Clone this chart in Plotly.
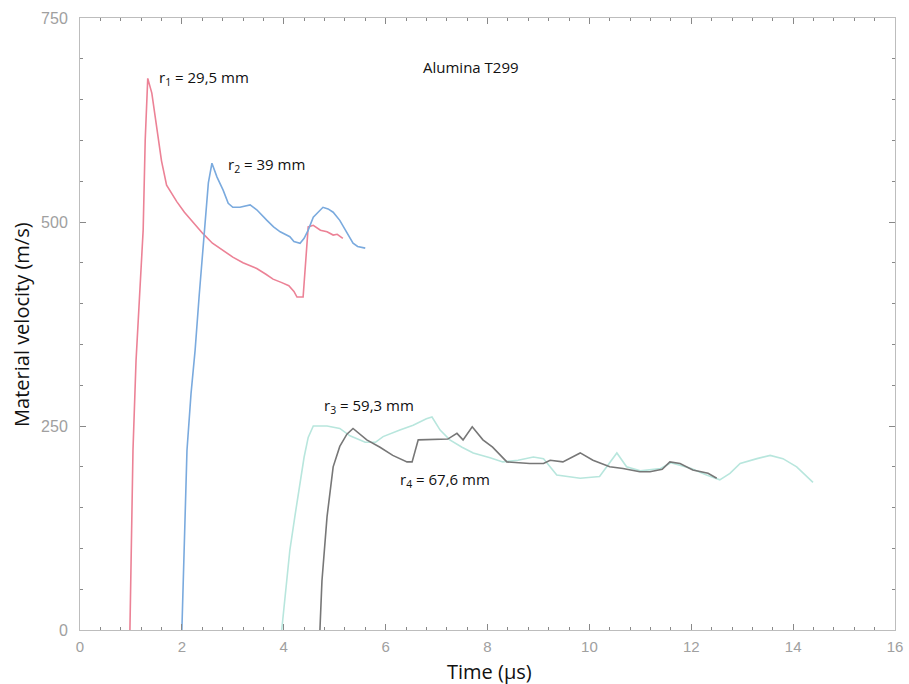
import plotly.graph_objects as go

# r1 = 29,5 mm (red)
t_r1 = [0.98, 1.0, 1.04, 1.1, 1.17, 1.24, 1.28, 1.33, 1.41, 1.51, 1.6, 1.7, 1.8, 1.9, 2.05, 2.22, 2.41,
        2.6, 2.8, 3.0, 3.2, 3.47, 3.65, 3.79, 3.95, 4.1, 4.2, 4.26, 4.38, 4.43, 4.48, 4.58, 4.72, 4.85,
        4.97, 5.05, 5.16]
v_r1 = [0, 80, 220, 330, 410, 490, 600, 676, 658, 612, 575, 545, 535, 525, 512, 500, 486,
        474, 465, 457, 450, 443, 436, 430, 426, 422, 415, 408, 408, 455, 494, 496, 490, 488,
        484, 485, 480]

# r2 = 39 mm (blue)
t_r2 = [2.0, 2.05, 2.1, 2.18, 2.26, 2.34, 2.42, 2.52, 2.59, 2.69, 2.81, 2.91, 3.0, 3.14, 3.34, 3.47,
        3.67, 3.8, 3.93, 4.12, 4.2, 4.32, 4.4, 4.48, 4.58, 4.77, 4.87, 4.97, 5.1, 5.24, 5.36, 5.45, 5.6]
v_r2 = [0, 110, 220, 290, 343, 410, 475, 548, 572, 555, 539, 523, 518, 518, 521, 515,
        502, 494, 488, 482, 476, 474, 480, 490, 506, 518, 516, 512, 502, 486, 474, 470, 468]

# r3 = 59,3 mm (light cyan)
t_r3 = [3.96, 4.04, 4.12, 4.22, 4.32, 4.4, 4.48, 4.58, 4.85, 5.1, 5.3, 5.6, 5.8, 5.95, 6.28, 6.54,
        6.8, 6.91, 7.07, 7.26, 7.5, 7.72, 8.05, 8.3, 8.6, 8.9, 9.1, 9.36, 9.82, 10.2, 10.54, 10.73,
        11.0, 11.4, 11.6, 12.0, 12.3, 12.56, 12.76, 12.96, 13.29, 13.55, 13.8, 14.07, 14.39]
v_r3 = [0, 50, 98, 140, 180, 212, 236, 250, 250, 247, 238, 230, 230, 237, 245, 251,
        259, 261, 245, 233, 224, 217, 211, 206, 208, 212, 210, 190, 186, 188, 217, 200,
        195, 198, 205, 198, 190, 184, 192, 204, 210, 214, 210, 200, 181]

# r4 = 67,6 mm (dark grey)
t_r4 = [4.71, 4.75, 4.85, 4.97, 5.1, 5.24, 5.36, 5.5, 5.63, 5.89, 6.14, 6.42, 6.52, 6.64, 7.0, 7.22,
        7.4, 7.52, 7.7, 7.91, 8.1, 8.38, 8.83, 9.1, 9.23, 9.48, 9.82, 10.07, 10.4, 10.66, 10.99,
        11.19, 11.43, 11.58, 11.78, 12.03, 12.33, 12.5]
v_r4 = [0, 60, 139, 200, 225, 240, 247, 240, 233, 224, 214, 206, 206, 233, 234, 234,
        241, 233, 249, 233, 224, 206, 204, 204, 208, 206, 217, 208, 200, 198, 194,
        194, 197, 206, 204, 196, 192, 186]

x_ticks = [0, 2, 4, 6, 8, 10, 12, 14, 16]
y_ticks = [0, 250, 500, 750]

fig = go.Figure()
series = [(t_r1, v_r1, "#ec8296"), (t_r2, v_r2, "#7aaade"),
          (t_r3, v_r3, "#b8e6dd"), (t_r4, v_r4, "#777777")]
for t, v, c in series:
    fig.add_trace(go.Scatter(x=t, y=v, mode="lines", line=dict(color=c, width=1.6),
                             showlegend=False, hoverinfo="skip"))

txt_font = dict(family="Open Sans", size=15, color="#111")
ann = [
    (1.51, 676, "r<sub>1</sub> = 29,5 mm", "left"),
    (2.87, 570, "r<sub>2</sub> = 39 mm", "left"),
    (7.68, 690, "Alumina T299", "center"),
    (4.75, 275, "r<sub>3</sub> = 59,3 mm", "left"),
    (6.24, 184, "r<sub>4</sub> = 67,6 mm", "left"),
]
for x, y, s, xa in ann:
    fig.add_annotation(x=x, y=y, text=s, showarrow=False, xanchor=xa, yanchor="middle", font=txt_font)

title_font = dict(family="Open Sans", size=20, color="#111")
fig.add_annotation(text="Time (μs)", xref="paper", yref="paper", x=0.503, y=-0.068,
                   xanchor="center", yanchor="middle", showarrow=False, font=title_font)
fig.add_annotation(text="Material velocity (m/s)", xref="paper", yref="paper", x=-0.0725, y=0.5,
                   xanchor="center", yanchor="middle", textangle=-90, showarrow=False, font=title_font)

axis_common = dict(
    showgrid=False, zeroline=False, showline=True, linecolor="#bdbdbd", linewidth=1,
    mirror="ticks", ticks="inside", ticklen=6, tickcolor="#888", tickwidth=1, automargin=False,
)
fig.update_xaxes(range=[0, 16], tickvals=x_ticks, ticktext=[str(v) for v in x_ticks],
                 tickfont=dict(family="Liberation Sans", size=15, color="#a0a0a0"),
                 ticklabelstandoff=3,
                 minor=dict(dtick=0.4, tick0=0, ticks="inside", ticklen=3, tickcolor="#888"),
                 **axis_common)
fig.update_yaxes(range=[0, 750], tickvals=y_ticks, ticktext=[str(v) for v in y_ticks],
                 tickfont=dict(family="Liberation Sans", size=16, color="#a0a0a0"),
                 ticklabelstandoff=8,
                 minor=dict(dtick=50, tick0=0, ticks="inside", ticklen=3, tickcolor="#888"),
                 **axis_common)

fig.update_layout(width=909, height=684, margin=dict(l=80, r=14, t=18, b=54, autoexpand=False),
                  plot_bgcolor="white", paper_bgcolor="white")
fig.write_html("out.html")
